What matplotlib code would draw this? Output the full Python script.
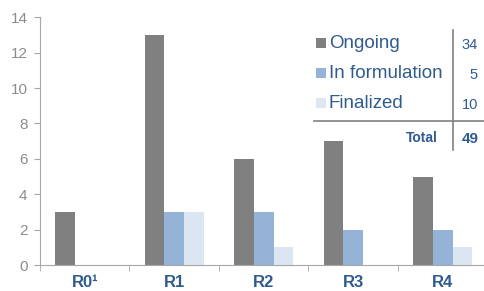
import matplotlib
matplotlib.use("Agg")
import matplotlib.pyplot as plt
import numpy as np

plt.rcParams['font.family'] = ['Liberation Sans', 'DejaVu Sans']

categories = ["R0¹", "R1", "R2", "R3", "R4"]
series_names = ["Ongoing", "In formulation", "Finalized"]
ongoing = [3, 13, 6, 7, 5]
in_formulation = [0, 3, 3, 2, 2]
finalized = [0, 3, 1, 0, 1]
totals = [34, 5, 10]
grand_total = 49

colors = ["#808080", "#95B3D7", "#DCE6F2"]
blue = "#2F5B8F"
grey = "#A6A6A6"

fig = plt.figure(figsize=(4.85, 2.91), dpi=100)
ax = fig.add_axes([0.0825, 0.089, 0.9225, 0.852])

x = np.arange(len(categories))
w = 0.22
for k, vals in enumerate([ongoing, in_formulation, finalized]):
    ax.bar(x + (k - 1) * w, vals, width=w, color=colors[k], linewidth=0)

ax.set_xlim(-0.5, len(categories) - 0.5)
ax.set_ylim(0, 14)
ax.set_yticks(range(0, 15, 2))
ax.set_xticks(x)
ax.set_xticklabels(categories, fontsize=12, fontweight="bold", color=blue)
ax.set_xticks(np.arange(-0.5, len(categories)), minor=True)
ax.tick_params(axis="x", which="major", length=0, pad=7)
ax.tick_params(axis="x", which="minor", length=4, color=grey, direction="out")
ax.tick_params(axis="y", length=4, color=grey, labelcolor="#8C8C8C", labelsize=11, pad=5)
for s in ["top", "right"]:
    ax.spines[s].set_visible(False)
for s in ["left", "bottom"]:
    ax.spines[s].set_color(grey)

# legend table
tr = fig.transFigure
rows_y = [1 - 43 / 291, 1 - 73 / 291, 1 - 103 / 291]
for name, col, tot, yy in zip(series_names, colors, totals, rows_y):
    fig.patches.append(plt.Rectangle((316 / 485, yy - 5 / 291), 10 / 485, 10 / 291,
                                     transform=tr, color=col, lw=0))
    fig.text(329 / 485, yy, name, fontsize=13.5, color=blue, va="center", ha="left")
    fig.text(478 / 485, yy - 2 / 291, str(tot), fontsize=10.5, color=blue, va="center", ha="right")
fig.add_artist(plt.Line2D([453 / 485, 453 / 485], [1 - 30 / 291, 1 - 150 / 291],
                          transform=tr, color="#808080", lw=1.2))
fig.add_artist(plt.Line2D([314 / 485, 1.0], [1 - 121 / 291, 1 - 121 / 291],
                          transform=tr, color="#808080", lw=1.2))
fig.text(438 / 485, 1 - 138 / 291, "Total", fontsize=10, fontweight="bold", color=blue,
         va="center", ha="right")
fig.text(479 / 485, 1 - 139 / 291, str(grand_total), fontsize=11, fontweight="bold", color=blue,
         va="center", ha="right")

fig.savefig("out.png", dpi=100)
